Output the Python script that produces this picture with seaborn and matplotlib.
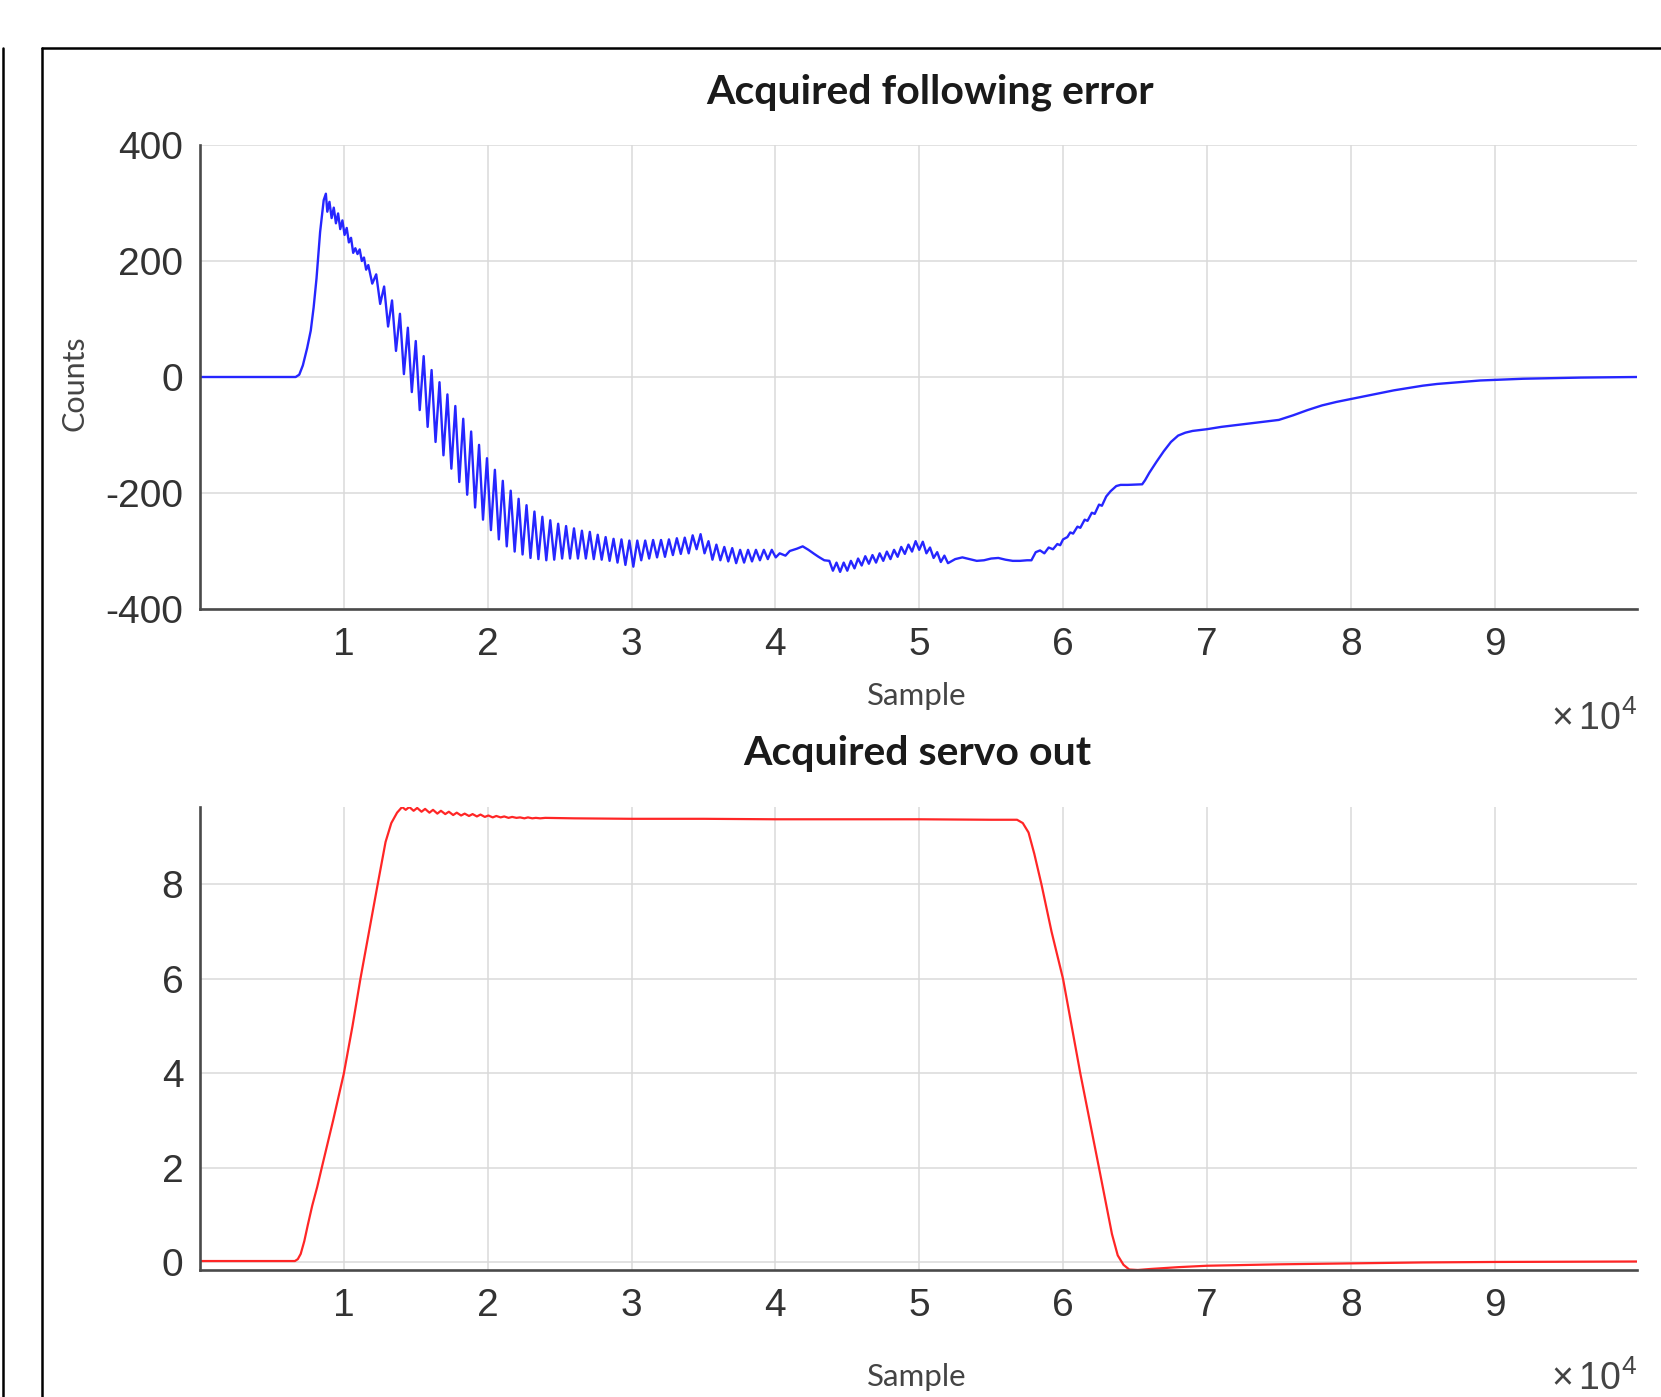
## Acquired following error / servo out ==========================================

import numpy as np
import matplotlib.pyplot as plt
from matplotlib.lines import Line2D
import seaborn as sns

# Pic Style
sns.set_style('whitegrid')
plt.rcParams['font.family'] = ['Liberation Sans', 'DejaVu Sans']
plt.rcParams['mathtext.fontset'] = 'custom'
plt.rcParams['mathtext.rm'] = 'Liberation Sans'

## Data -----------------------------------------------------------------------------

# following error, counts
fe_sample = [
    0, 6650, 6900, 7150, 7450, 7700, 7900, 8100, 8350, 8600, 8750,
    8850, 9000, 9150, 9300, 9450, 9600, 9750, 9900, 10050, 10200,
    10350, 10500, 10650, 10800, 10950, 11100, 11250, 11400, 11550,
    11700, 11975, 12250, 12525, 12800, 13075, 13350, 13625, 13900, 14175,
    14450, 14725, 15000, 15275, 15550, 15825, 16100, 16375, 16650, 16925,
    17200, 17475, 17750, 18025, 18300, 18575, 18850, 19125, 19400, 19675,
    19950, 20225, 20500, 20775, 21050, 21325, 21600, 21875, 22150, 22425,
    22700, 22975, 23250, 23525, 23800, 24075, 24350, 24625, 24900, 25175,
    25450, 25725, 26000, 26275, 26550, 26825, 27100, 27375, 27650, 27925,
    28200, 28475, 28750, 29025, 29300, 29575, 29850, 30125,
    30400, 30675, 30950, 31225, 31500, 31775, 32050, 32325, 32600, 32875,
    33150, 33425, 33700, 33975, 34250, 34525, 34800, 35075, 35350, 35625,
    35900, 36175, 36450, 36725, 37000, 37275, 37550, 37825, 38100, 38375,
    38650, 38925, 39200, 39475, 39750, 40025,
    40300, 40700, 41000, 41500, 41900, 42300, 42700, 43000, 43400,
    43750, 44000, 44250, 44500, 44750, 45000, 45250, 45500, 45750, 46000,
    46250, 46500, 46750, 47000, 47250, 47500, 47750, 48000, 48250, 48500,
    48750, 49000, 49250, 49500, 49750, 50000, 50250, 50500, 50750, 51000,
    51250, 51500, 51750, 52000,
    52500, 53000, 53500, 54000, 54500, 55000, 55500, 56000, 56500, 57000,
    57500, 57800, 58100, 58400, 58700, 59000, 59300, 59600, 59800, 60000,
    60300, 60500, 60700, 61000, 61200, 61500, 61700, 62000, 62200, 62500,
    62700, 63000, 63300, 63700, 64000, 64500, 65500, 65700, 66000, 66500,
    67000, 67500, 68000, 68500, 69000, 70000, 71000, 72000, 73000, 74000,
    75000, 76000, 77000, 78000, 79000, 80000, 81000, 82000, 83000, 84000,
    85000, 86000, 87000, 88000, 89000, 90000, 92000, 94000, 96000, 99900,
]
fe_counts = [
    0, 0, 4, 20, 50, 80, 120, 170, 250, 305, 316,
    285, 302, 274, 292, 265, 282, 255, 270, 245, 257,
    232, 240, 214, 222, 212, 220, 200, 206, 185,
    193, 161, 177, 126, 156, 87, 132, 45, 109, 5,
    85, -26, 62, -57, 36, -86, 12, -112, -9, -135,
    -30, -158, -50, -181, -72, -203, -94, -225, -117, -246,
    -140, -264, -160, -280, -179, -292, -196, -301, -210, -306,
    -221, -312, -232, -314, -241, -316, -247, -315, -253, -313,
    -257, -313, -261, -313, -265, -313, -267, -314, -272, -315,
    -276, -317, -279, -320, -280, -324, -282, -327,
    -282, -316, -282, -313, -281, -311, -281, -310, -280, -307,
    -278, -305, -277, -304, -273, -297, -271, -304, -283, -315,
    -289, -316, -293, -318, -295, -321, -298, -320, -298, -318,
    -298, -316, -298, -314, -298, -311,
    -304, -308, -300, -296, -292, -298, -305, -310, -316,
    -317, -334, -320, -336, -320, -334, -317, -330, -313, -325,
    -309, -322, -307, -320, -304, -317, -301, -314, -298, -310,
    -293, -305, -289, -301, -283, -298, -284, -304, -294, -312,
    -302, -319, -308, -321,
    -314, -311, -314, -317, -316, -313, -312, -315, -317, -317,
    -316, -316, -302, -299, -304, -294, -297, -288, -290, -280,
    -276, -268, -270, -258, -260, -246, -248, -234, -236, -220,
    -222, -206, -197, -188, -186, -186, -185, -178, -165, -146,
    -128, -112, -101, -96, -93, -90, -86, -83, -80, -77,
    -74, -66, -57, -49, -43, -38, -33, -28, -23, -19,
    -15, -12, -10, -8, -6, -5, -3, -2, -1, 0,
]

# servo out
so_sample = [
    0, 6600, 6800, 7000, 7250, 7500, 7800, 8150, 8500, 9250,
    10000, 10600, 11150, 11750, 12350, 12900, 13300, 13700, 14050,
    14300, 14550, 14850, 15100, 15400, 15650, 15950, 16200, 16500, 16750,
    17050, 17300, 17600, 17850, 18150, 18400, 18700, 18950, 19250, 19500,
    19800, 20050, 20350, 20600, 20900, 21150, 21450, 21700, 22000, 22250,
    22550, 22800, 23100, 23350, 23650, 24000,
    26000, 30000, 35000, 40000, 45000, 50000, 55000, 56800, 57200, 57600,
    58000, 58500, 59200, 60000, 61200, 62500, 63400, 63800, 64200, 64600,
    65200, 66000, 68000, 70000, 75000, 80000, 85000, 90000, 99900,
]
so_value = [
    0.03, 0.03, 0.07, 0.18, 0.45, 0.8, 1.2, 1.6, 2.05, 3.0,
    4.0, 5.0, 6.0, 7.0, 8.0, 8.9, 9.3, 9.52, 9.64,
    9.58, 9.64, 9.56, 9.62, 9.54, 9.6, 9.52, 9.58, 9.5, 9.56,
    9.49, 9.54, 9.47, 9.52, 9.46, 9.5, 9.45, 9.49, 9.44, 9.48,
    9.43, 9.46, 9.42, 9.45, 9.42, 9.44, 9.41, 9.43, 9.41, 9.42,
    9.4, 9.42, 9.4, 9.41, 9.4, 9.41,
    9.4, 9.39, 9.39, 9.38, 9.38, 9.38, 9.37, 9.37, 9.3, 9.1,
    8.65, 8.0, 7.0, 6.0, 4.0, 2.0, 0.6, 0.15, -0.05, -0.15,
    -0.16, -0.14, -0.1, -0.07, -0.04, -0.02, 0.0, 0.01, 0.02,
]

x_ticks = [10000, 20000, 30000, 40000, 50000, 60000, 70000, 80000, 90000]
x_ticklabels = ['1', '2', '3', '4', '5', '6', '7', '8', '9']
fe_yticks = [-400, -200, 0, 200, 400]
so_yticks = [0, 2, 4, 6, 8]

## Plotting --------------------------------------------------------------------------
W, H = 1661, 1397
fig = plt.figure(figsize=(W / 100, H / 100), dpi=100)

# axes boxes in pixels (left, top, right, bottom)
def px_axes(l, t, r, b):
    return fig.add_axes([l / W, 1 - b / H, (r - l) / W, (b - t) / H])

ax1 = px_axes(200, 145, 1637, 609)
ax2 = px_axes(200, 807, 1637, 1270)

sns.lineplot(x=fe_sample, y=fe_counts, ax=ax1, color='#2626ff', linewidth=1.7, estimator=None)
sns.lineplot(x=so_sample, y=so_value, ax=ax2, color='#ff2626', linewidth=1.6, estimator=None)

ax1.set_ylim(-400, 400)
ax1.set_yticks(fe_yticks)
ax1.set_yticklabels([str(v) for v in fe_yticks])
ax2.set_ylim(min(so_value), max(so_value))
ax2.set_yticks(so_yticks)
ax2.set_yticklabels([str(v) for v in so_yticks])

title_font = ['Lato', 'DejaVu Sans']
for ax in (ax1, ax2):
    ax.set_xlim(0, 99900)
    ax.set_xticks(x_ticks)
    ax.set_xticklabels(x_ticklabels)
    ax.set_xlabel('')
    ax.set_ylabel('')
    ax.grid(True, color='#dadada', linewidth=1.1)
    for side in ('top', 'right'):
        ax.spines[side].set_visible(False)
    for side in ('left', 'bottom'):
        ax.spines[side].set_color('#4a4a4a')
        ax.spines[side].set_linewidth(1.9)
    ax.tick_params(direction='in', length=7, width=1.4, color='#333333',
                   labelsize=28, labelcolor='#333333')
    ax.tick_params(axis='x', pad=13)
    ax.tick_params(axis='y', pad=12)
    ax.set_facecolor('white')
    ax.text(1.0, -0.26, r'$\times\,10^{4}$', transform=ax.transAxes,
            ha='right', va='baseline', fontsize=27, color='#444444')

ax1.text(0.508, 1.09, 'Acquired following error', transform=ax1.transAxes,
         ha='center', va='baseline', fontsize=29.5, fontweight='bold',
         family=title_font, color='#1a1a1a')
ax2.text(0.499, 1.09, 'Acquired servo out', transform=ax2.transAxes,
         ha='center', va='baseline', fontsize=29.5, fontweight='bold',
         family=title_font, color='#1a1a1a')
ax1.text(0.499, -0.207, 'Sample', transform=ax1.transAxes, ha='center',
         va='baseline', fontsize=22.5, family=title_font, color='#444444')
ax2.text(0.499, -0.25, 'Sample', transform=ax2.transAxes, ha='center',
         va='baseline', fontsize=22.5, family=title_font, color='#444444')
ax1.text(-0.087, 0.487, 'Counts', transform=ax1.transAxes, ha='center',
         va='center', rotation=90, fontsize=22, family=title_font, color='#444444')

# black frame around the panel (cropped screenshot)
top_y = 1 - 48 / H
fig.add_artist(Line2D([42 / W, 1], [top_y, top_y], color='black', linewidth=1.8))
fig.add_artist(Line2D([42 / W, 42 / W], [0, top_y], color='black', linewidth=1.8))
fig.add_artist(Line2D([3 / W, 3 / W], [0, top_y], color='black', linewidth=1.8))

plt.savefig('out.png', dpi=100, facecolor='white')
